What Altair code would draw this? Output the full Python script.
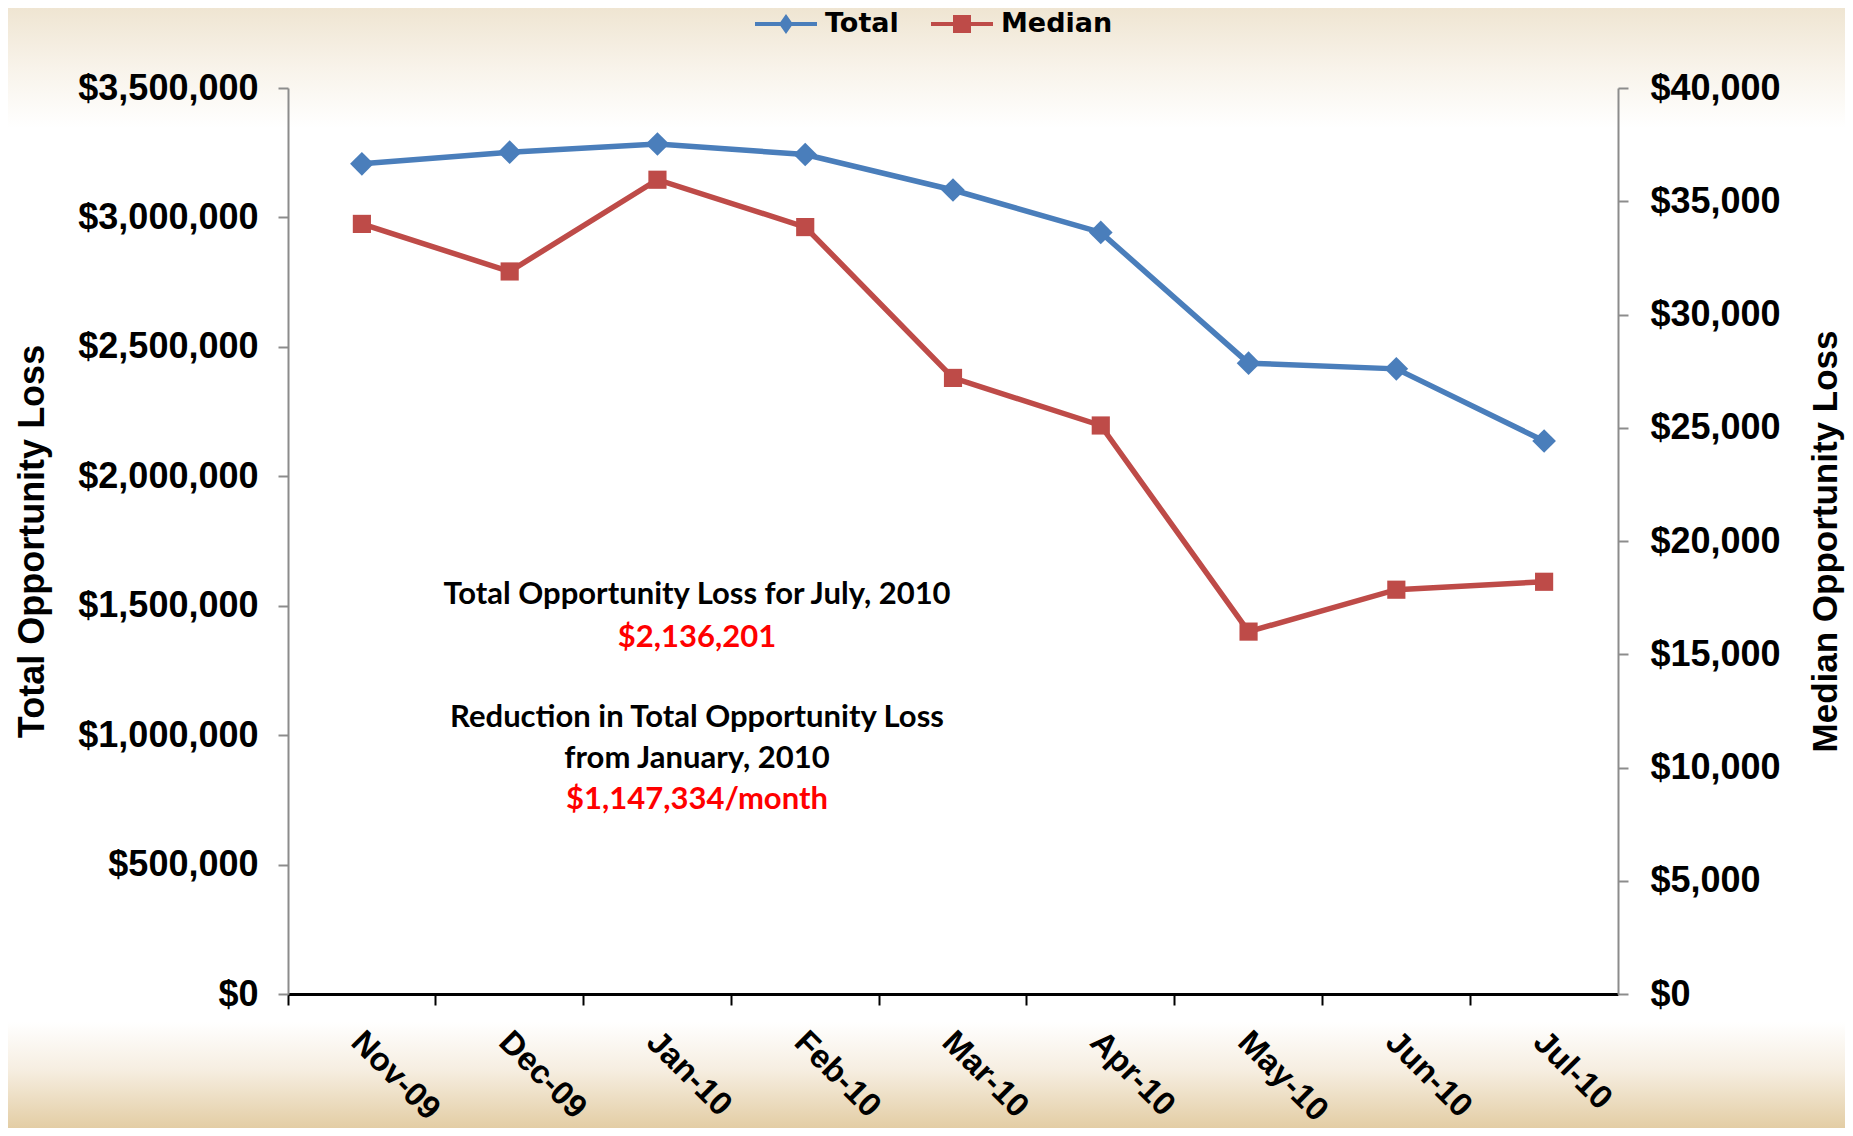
import altair as alt
import pandas as pd

# ---------------- data ----------------
months = ["Nov-09", "Dec-09", "Jan-10", "Feb-10", "Mar-10", "Apr-10", "May-10", "Jun-10", "Jul-10"]
total = [3207000, 3252000, 3283535, 3243000, 3106000, 2942000, 2437000, 2415000, 2136201]
median = [34000, 31900, 35950, 33860, 27200, 25100, 16000, 17850, 18200]
series = ["Total", "Median"]
series_colors = ["#4A7EBB", "#BE4B48"]
total_ticks = [0, 500000, 1000000, 1500000, 2000000, 2500000, 3000000, 3500000]
median_ticks = [0, 5000, 10000, 15000, 20000, 25000, 30000, 35000, 40000]
note_lines = [
    "Total Opportunity Loss for July, 2010",
    "$2,136,201",
    "Reduction in Total Opportunity Loss",
    "from January, 2010",
    "$1,147,334/month",
]
note_colors = ["#000000", "#FF0000", "#000000", "#000000", "#FF0000"]

# ---------------- layout ----------------
W, H = 1330, 906
PAD = {"left": 280, "top": 80, "right": 227, "bottom": 134}
NOTE_X = 409
NOTE_Y = [507, 550, 630, 671, 712]
LABEL_FONT = "Liberation Sans"
AXIS_GRAY = "#8C8C8C"

df = pd.DataFrame({"month": months, "total": total, "median": median})

# legend symbols: line with a marker in the middle
diamond_path = ("M-1,-0.065 L-0.18,-0.065 L0,-0.32 L0.18,-0.065 L1,-0.065 L1,0.065 "
                "L0.18,0.065 L0,0.32 L-0.18,0.065 L-1,0.065 Z")
square_path = ("M-1,-0.065 L-0.29,-0.065 L-0.29,-0.29 L0.29,-0.29 L0.29,-0.065 L1,-0.065 "
               "L1,0.065 L0.29,0.065 L0.29,0.29 L-0.29,0.29 L-0.29,0.065 L-1,0.065 Z")

x_axis = alt.Axis(
    title=None, bandPosition=0, labelOffset=6, labelAngle=45,
    labelAlign="left", labelBaseline="top", labelPadding=20, labelLimit=0,
    labelFont=LABEL_FONT, labelFontSize=33, labelFontWeight="bold", labelColor="black",
    tickColor="black", tickWidth=2, tickSize=11, domainColor="black", domainWidth=3,
    grid=False, zindex=1,
)
x_enc = alt.X("month:N", sort=months,
              scale=alt.Scale(type="band", paddingInner=0, paddingOuter=0),
              axis=x_axis)

# background bands (parchment top and bottom)
one = pd.DataFrame({"k": [0]})
bg_top = alt.Chart(one).mark_rect(
    color=alt.LinearGradient(
        gradient="linear", x1=0, x2=0, y1=0, y2=1,
        stops=[alt.GradientStop(offset=0, color="#EFE5D2"),
               alt.GradientStop(offset=0.5, color="#F8F3EA"),
               alt.GradientStop(offset=1, color="#FFFFFF")])
).encode(x=alt.value(-PAD["left"]), x2=alt.value(W + PAD["right"]),
         y=alt.value(-PAD["top"]), y2=alt.value(40))

bg_bot = alt.Chart(one).mark_rect(
    color=alt.LinearGradient(
        gradient="linear", x1=0, x2=0, y1=0, y2=1,
        stops=[alt.GradientStop(offset=0, color="#FFFFFF"),
               alt.GradientStop(offset=0.45, color="#F6EEE1"),
               alt.GradientStop(offset=1, color="#E3CDA4")])
).encode(x=alt.value(-PAD["left"]), x2=alt.value(W + PAD["right"]),
         y=alt.value(H + 28), y2=alt.value(H + PAD["bottom"]))

total_chart = alt.Chart(df).mark_line(
    color=series_colors[0], strokeWidth=5.5,
    point=alt.OverlayMarkDef(shape="diamond", size=560, filled=True,
                             color=series_colors[0], opacity=1),
).encode(
    x=x_enc,
    y=alt.Y("total:Q",
            scale=alt.Scale(domain=[0, 3500000], nice=False, zero=True),
            axis=alt.Axis(
                orient="left", values=total_ticks, format="$,.0f",
                title="Total Opportunity Loss", titleFont=LABEL_FONT, titleFontSize=36,
                titleFontWeight="bold", titleColor="black", titlePadding=37,
                labelFont=LABEL_FONT, labelFontSize=36, labelFontWeight="bold",
                labelColor="black", labelPadding=20, labelLimit=0,
                tickColor=AXIS_GRAY, tickWidth=2, tickSize=10,
                domainColor=AXIS_GRAY, domainWidth=2, grid=False, zindex=1)),
)

median_chart = alt.Chart(df).mark_line(
    color=series_colors[1], strokeWidth=5.5,
    point=alt.OverlayMarkDef(shape="square", size=330, filled=True,
                             color=series_colors[1], opacity=1),
).encode(
    x=x_enc,
    y=alt.Y("median:Q",
            scale=alt.Scale(domain=[0, 40000], nice=False, zero=True),
            axis=alt.Axis(
                orient="right", values=median_ticks, format="$,.0f",
                title="Median Opportunity Loss", titleFont=LABEL_FONT, titleFontSize=35,
                titleFontWeight="bold", titleColor="black", titlePadding=28,
                titleAngle=270, titleBaseline="top",
                labelFont=LABEL_FONT, labelFontSize=36, labelFontWeight="bold",
                labelColor="black", labelPadding=22, labelLimit=0,
                tickColor=AXIS_GRAY, tickWidth=2, tickSize=10,
                domainColor=AXIS_GRAY, domainWidth=2, grid=False, zindex=1)),
)

legend_props = dict(
    title=None, orient="none", legendX=467, legendY=-95, direction="horizontal",
    columns=2, symbolSize=3844, symbolStrokeWidth=0, labelFont="DejaVu Sans",
    labelFontSize=27, labelFontWeight="bold", labelColor="black", labelOffset=8,
    columnPadding=32, padding=0,
)
legend_layer = alt.Chart(pd.DataFrame({"series": series})).transform_filter("false").mark_point(
    filled=True, opacity=1
).encode(
    color=alt.Color("series:N", scale=alt.Scale(domain=series, range=series_colors),
                    legend=alt.Legend(**legend_props)),
    shape=alt.Shape("series:N", scale=alt.Scale(domain=series, range=[diamond_path, square_path]),
                    legend=alt.Legend(**legend_props)),
)

notes = []
for txt, col, yy in zip(note_lines, note_colors, NOTE_Y):
    notes.append(
        alt.Chart(pd.DataFrame({"t": [txt]})).mark_text(
            font="Lato", fontWeight="bold", fontSize=31, color=col,
            align="center", baseline="middle",
        ).encode(text="t:N", x=alt.value(NOTE_X), y=alt.value(yy))
    )

chart = alt.layer(
    bg_top, bg_bot, total_chart, median_chart, *notes, legend_layer
).resolve_scale(
    y="independent"
).properties(
    width=W, height=H, padding=PAD, autosize=alt.AutoSizeParams(type="none"),
    background="#FFFFFF",
).configure_view(stroke=None)

chart.save("out.html", embed_options={"renderer": "svg", "actions": False})
